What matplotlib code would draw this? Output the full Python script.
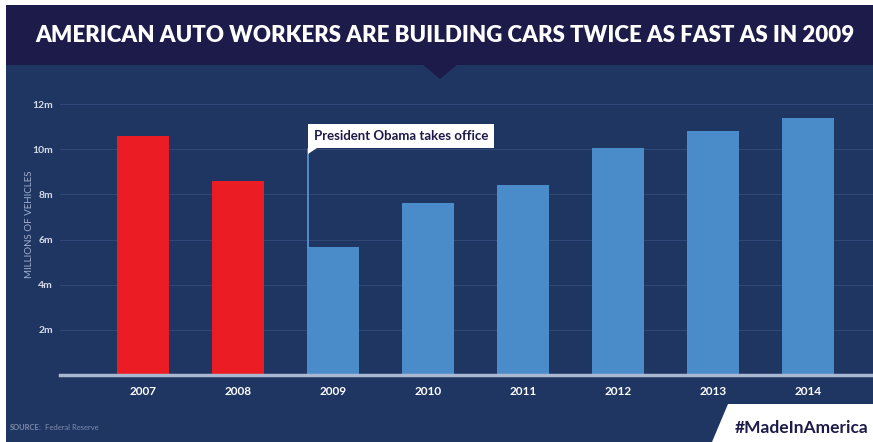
import matplotlib.pyplot as plt
from matplotlib.patches import Polygon, Rectangle

# Annual U.S. vehicle production, millions
years = ['2007', '2008', '2009', '2010', '2011', '2012', '2013', '2014']
production = [10.6, 8.6, 5.65, 7.6, 8.4, 10.05, 10.8, 11.4]
bar_colors = ['#ec1c24', '#ec1c24', '#4a8cca', '#4a8cca', '#4a8cca', '#4a8cca', '#4a8cca', '#4a8cca']
y_ticks = [2, 4, 6, 8, 10, 12]
y_tick_labels = ['2m', '4m', '6m', '8m', '10m', '12m']

W, H = 873, 442
HEADER = '#1c1b49'
BODY = '#1f3562'
GRID = '#2f4878'

plt.rcParams['font.family'] = ['Lato', 'DejaVu Sans']

fig = plt.figure(figsize=(W / 100, H / 100), dpi=100, facecolor='white')

# Background decoration drawn in pixel coordinates
bg = fig.add_axes([0, 0, 1, 1])
bg.set_xlim(0, W)
bg.set_ylim(H, 0)
bg.axis('off')
bg.add_patch(Rectangle((6, 5), W - 6, 60, color=HEADER, lw=0))
bg.add_patch(Rectangle((6, 65), W - 6, H - 65, color=BODY, lw=0))
bg.add_patch(Polygon([(422, 64), (458, 64), (440, 79)], closed=True, color=HEADER, lw=0))
bg.text(445, 36, 'AMERICAN AUTO WORKERS ARE BUILDING CARS TWICE AS FAST AS IN 2009',
        color='white', fontsize=16, fontweight='heavy', ha='center', va='center')
bg.text(30, 224, 'MILLIONS OF VEHICLES', color='#a3b0cb', fontsize=7, rotation=90,
        ha='center', va='center')
bg.text(10, 428, 'SOURCE:', color='#7f8daa', fontsize=5.5, fontweight='bold',
        ha='left', va='center')
bg.text(45, 428, 'Federal Reserve', color='#7f8daa', fontsize=5.5, ha='left', va='center')
bg.add_patch(Polygon([(728, 404), (W, 404), (W, H), (712, H)], closed=True,
                     color='white', lw=0))
bg.text(802, 428, '#MadeInAmerica', color='#1c1b49', fontsize=12.5, fontweight='bold',
        ha='center', va='center')

# Bar chart
px_left, px_right, px_top, px_base = 60, W, 97, 375
ax = fig.add_axes([px_left / W, (H - px_base) / H,
                   (px_right - px_left) / W, (px_base - px_top) / H])
ax.set_facecolor('none')
x = list(range(len(years)))
ax.bar(x, production, width=0.55, color=bar_colors, zorder=3)
ax.set_xlim((px_left - 143) / 95, (px_right - 143) / 95)
ax.set_ylim(0, 12.0 * (px_base - px_top) / (px_base - 104))

ax.set_yticks(y_ticks)
ax.set_yticklabels(y_tick_labels)
ax.set_xticks(x)
ax.set_xticklabels(years)
ax.tick_params(axis='y', length=0, pad=5, labelsize=7.5, labelcolor='#d4dae6')
ax.tick_params(axis='x', length=0, pad=8, labelsize=8.5, labelcolor='white')
for lbl in ax.get_yticklabels() + ax.get_xticklabels():
    lbl.set_fontweight('bold')
ax.grid(axis='y', color=GRID, lw=0.8, zorder=0)
for side in ['top', 'right', 'left']:
    ax.spines[side].set_visible(False)
ax.spines['bottom'].set_color('#a9b8d0')
ax.spines['bottom'].set_linewidth(2.5)
ax.spines['bottom'].set_zorder(4)

# Callout for the 2009 bar
x0 = 2 - 0.55 / 2 + 0.01
ax.plot([x0, x0], [production[2], 10.0], color='#5a9bd8', lw=1.2, zorder=4)
ax.annotate('President Obama takes office', xy=(x0, 10.0), xytext=(x0 + 0.06, 10.6),
            color='#1c1b49', fontsize=9.5, fontweight='bold', ha='left', va='center',
            bbox=dict(boxstyle='square,pad=0.45', fc='white', ec='none'), zorder=5)
ax.add_patch(Polygon([(x0, 9.8), (x0, 10.15), (x0 + 0.13, 10.15)], closed=True,
                     color='white', lw=0, zorder=5))

fig.savefig('out.png', dpi=100, facecolor='white')
